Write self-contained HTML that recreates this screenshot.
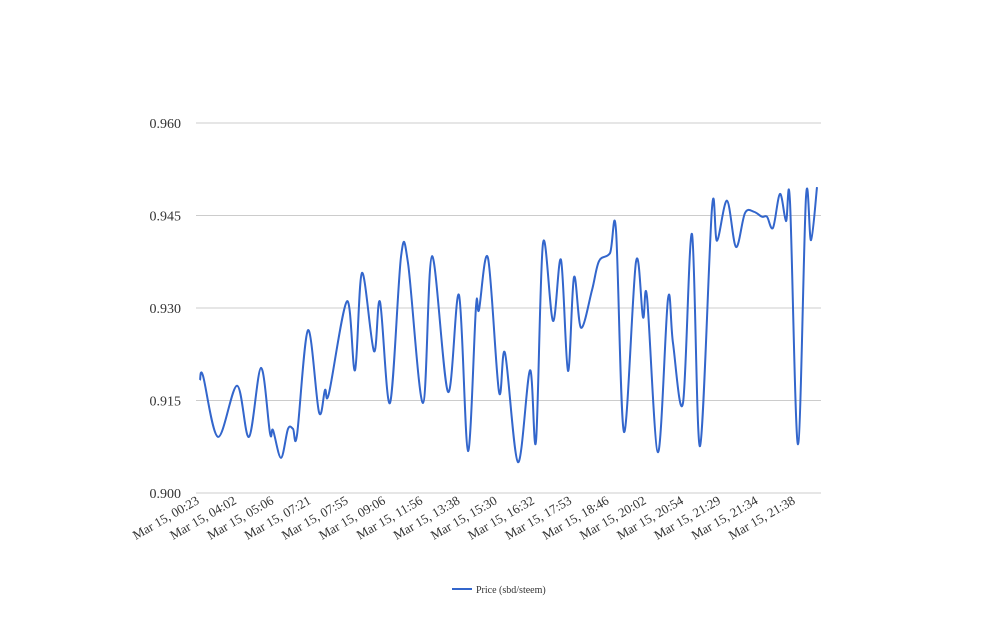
<!DOCTYPE html>
<html><head><meta charset="utf-8"><style>
html,body{margin:0;padding:0;background:#fff;}
svg text{font-family:"Liberation Serif","DejaVu Serif",serif;fill:#333;}
</style></head><body>
<svg width="1008" height="616" viewBox="0 0 1008 616">
<g id="grid"></g><g id="ylab"></g><g id="xlab"></g>
<path id="line" fill="none" stroke="#3366cc" stroke-width="2"/>
<g>
<line x1="452" y1="589" x2="472" y2="589" stroke="#3366cc" stroke-width="2"/>
<text x="476" y="593" font-size="10">Price (sbd/steem)</text>
</g>
</svg>
<script>
const timeIdx=[0,3,18,37,49,61,70,73,81,88,93,97,108,119,125,129,147,155,162,174,180,190,201,208,223,232,248,259,268,276,279,288,299,305,318,330,336,343,353,361,368,374,381,392,399,410,416,424,436,443,447,458,468,473,483,492,500,512,517,527,536,545,554,562,567,573,580,586,590,598,606,611,617];
const prices=[.9183,.9190,.9091,.9174,.9091,.9203,.9097,.9102,.9057,.9104,.9104,.9094,.9264,.9131,.9167,.9162,.9311,.9199,.9357,.9230,.9310,.9146,.9383,.9373,.9146,.9384,.9164,.9321,.9068,.9302,.9297,.9381,.9164,.9227,.9050,.9199,.9084,.9405,.9279,.9378,.9198,.9350,.9268,.9329,.9376,.9389,.9426,.9099,.9375,.9285,.9318,.9066,.9315,.9243,.9146,.9420,.9076,.9462,.9409,.9474,.9399,.9454,.9456,.9448,.9448,.9430,.9485,.9441,.9472,.9079,.9480,.9410,.9496];
const yTicks=["0.900","0.915","0.930","0.945","0.960"];
const xLabels=["Mar 15, 00:23","Mar 15, 04:02","Mar 15, 05:06","Mar 15, 07:21","Mar 15, 07:55","Mar 15, 09:06","Mar 15, 11:56","Mar 15, 13:38","Mar 15, 15:30","Mar 15, 16:32","Mar 15, 17:53","Mar 15, 18:46","Mar 15, 20:02","Mar 15, 20:54","Mar 15, 21:29","Mar 15, 21:34","Mar 15, 21:38"];
const NS="http://www.w3.org/2000/svg";
const yMin=0.9,yMax=0.96,plotTop=123,plotBot=493,plotLeft=196,plotRight=821;
const tMax=timeIdx[timeIdx.length-1];
function sy(v){return plotBot-(v-yMin)/(yMax-yMin)*(plotBot-plotTop);}
function sx(t){return 200+t/tMax*617;}
const grid=document.getElementById('grid'),ylab=document.getElementById('ylab'),xlab=document.getElementById('xlab');
yTicks.forEach(t=>{const y=sy(parseFloat(t));
const l=document.createElementNS(NS,'line');l.setAttribute('x1',plotLeft);l.setAttribute('x2',plotRight);l.setAttribute('y1',y);l.setAttribute('y2',y);l.setAttribute('stroke','#cccccc');l.setAttribute('stroke-width','1');


grid.appendChild(l);
const tx=document.createElementNS(NS,'text');tx.setAttribute('x',181);tx.setAttribute('y',y+5);tx.setAttribute('text-anchor','end');tx.setAttribute('font-size','14');tx.textContent=t;


ylab.appendChild(tx);});
xLabels.forEach((s,i)=>{const x=200+i*37.25,y=503;
const tx=document.createElementNS(NS,'text');tx.setAttribute('x',x);tx.setAttribute('y',y);tx.setAttribute('text-anchor','end');tx.setAttribute('font-size','13');tx.setAttribute('transform','rotate(-30 '+x+' '+y+')');tx.textContent=s;


xlab.appendChild(tx);});
const P=timeIdx.map((t,i)=>[sx(t),sy(prices[i])]);
let d='M'+P[0][0]+','+P[0][1];
for(let i=0;i<P.length-1;i++){const p0=P[Math.max(0,i-1)],p1=P[i],p2=P[i+1],p3=P[Math.min(P.length-1,i+2)];
const k=1/6;const c1=[p1[0]+(p2[0]-p0[0])*k,p1[1]+(p2[1]-p0[1])*k],c2=[p2[0]-(p3[0]-p1[0])*k,p2[1]-(p3[1]-p1[1])*k];
d+=' C'+c1[0]+','+c1[1]+' '+c2[0]+','+c2[1]+' '+p2[0]+','+p2[1];}
document.getElementById('line').setAttribute('d',d);
</script>
</body></html>
